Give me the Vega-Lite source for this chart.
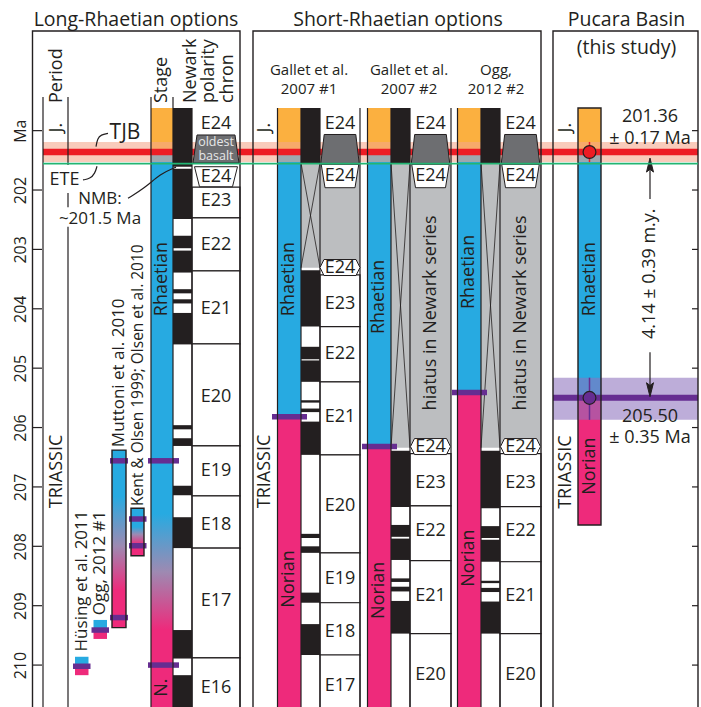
{
"$schema":"https://vega.github.io/schema/vega-lite/v6.json",
"width":669,"height":707,
"autosize":{"type":"none"},
"padding":{"left":32,"top":0,"right":0,"bottom":0},
"background":"#ffffff",
"config":{"view":{"stroke":null},"font":"Open Sans","text":{"font":"Open Sans","fill":"#231f20"}},
"datasets":{
"cols":[
{"col":"Lbox","x":32.5,"x2":240,"xc":136},
{"col":"Sbox","x":253,"x2":541,"xc":398},
{"col":"Pbox","x":553,"x2":698,"xc":626.5},
{"col":"band","x":43,"x2":698},
{"col":"Pband","x":553,"x2":698},
{"col":"Lper","x":43,"x2":68,"xc":57},
{"col":"Lstage","x":151,"x2":173,"xc":162},
{"col":"Lpol","x":173,"x2":192,"xc":182.5},
{"col":"Lchron","x":192,"x2":240,"xc":216},
{"col":"Hus","x":75,"x2":88.5,"xc":82},
{"col":"Ogg1","x":93.5,"x2":107,"xc":99.5},
{"col":"Mut","x":112,"x2":126,"xc":119},
{"col":"Kent","x":131,"x2":144,"xc":138},
{"col":"Sper","x":253,"x2":277.5,"xc":265},
{"col":"G1s","x":277.5,"x2":301,"xc":289},
{"col":"G1p","x":301,"x2":320,"xc":310.5},
{"col":"G1c","x":320,"x2":360,"xc":340},
{"col":"G2s","x":367.5,"x2":391,"xc":379},
{"col":"G2p","x":391,"x2":410,"xc":400.5},
{"col":"G2c","x":410,"x2":451,"xc":430.5},
{"col":"O2s","x":457.5,"x2":481,"xc":469},
{"col":"O2p","x":481,"x2":500,"xc":490.5},
{"col":"O2c","x":500,"x2":541,"xc":520.5},
{"col":"Pper","x":553,"x2":578,"xc":565.5},
{"col":"Ps","x":578,"x2":601,"xc":589.5},
{"col":"Lstage-bar","x":148,"x2":179},
{"col":"Hus-bar","x":73,"x2":90.5},
{"col":"Ogg1-bar","x":91.5,"x2":109},
{"col":"Mut-bar","x":110,"x2":128},
{"col":"Kent-bar","x":129,"x2":146.5},
{"col":"G1-bar","x":272,"x2":307},
{"col":"G2-bar","x":362,"x2":397},
{"col":"O2-bar","x":452,"x2":487},
{"col":"tickL","x":32.5,"x2":42},
{"col":"tickR","x":692,"x2":698},
{"col":"G1h","xc":309},
{"col":"G2h","xc":409},
{"col":"O2h","xc":496},
{"col":"Newark","xc":191},
{"col":"polarity","xc":209},
{"col":"chron","xc":228},
{"col":"TJB","xc":125},
{"col":"ETE","xc":64.5},
{"col":"NMB","xc":100},
{"col":"Page","xc":650},
{"col":"arrow","x":650,"xc":650}
],
"stage":[
{"col":"Lstage","kind":"J","top":200.62,"base":201.36},
{"col":"G1s","kind":"J","top":200.62,"base":201.36},
{"col":"G1s","kind":"Rh","top":201.36,"base":205.82},
{"col":"G1s","kind":"No","top":205.82,"base":211},
{"col":"G2s","kind":"J","top":200.62,"base":201.36},
{"col":"G2s","kind":"Rh","top":201.36,"base":206.32},
{"col":"G2s","kind":"No","top":206.32,"base":211},
{"col":"O2s","kind":"J","top":200.62,"base":201.36},
{"col":"O2s","kind":"Rh","top":201.36,"base":205.41},
{"col":"O2s","kind":"No","top":205.41,"base":211},
{"col":"Ps","kind":"J","top":200.62,"base":201.36},
{"col":"Ps","kind":"Rh","top":201.36,"base":205.5},
{"col":"Ps","kind":"No","top":205.5,"base":207.64},
{"col":"Hus","kind":"Rh","top":209.86,"base":210.02},
{"col":"Hus","kind":"No","top":210.02,"base":210.17},
{"col":"Ogg1","kind":"Rh","top":209.24,"base":209.41},
{"col":"Ogg1","kind":"No","top":209.41,"base":209.56}
],
"grad":[
{"col":"Lstage","top":201.36,"base":211},
{"col":"Mut","top":206.38,"base":209.37},
{"col":"Kent","top":207.36,"base":208.16}
],
"chron":[
{"col":"Lchron","top":201.95,"base":202.47},
{"col":"Lchron","top":202.47,"base":203.36},
{"col":"Lchron","top":203.36,"base":204.59},
{"col":"Lchron","top":204.59,"base":206.31},
{"col":"Lchron","top":206.31,"base":207.15},
{"col":"Lchron","top":207.15,"base":208.03},
{"col":"Lchron","top":208.03,"base":209.88},
{"col":"Lchron","top":209.88,"base":211},
{"col":"G1c","top":203.43,"base":204.3},
{"col":"G1c","top":204.3,"base":205.23},
{"col":"G1c","top":205.23,"base":206.46},
{"col":"G1c","top":206.46,"base":208.11},
{"col":"G1c","top":208.11,"base":208.95},
{"col":"G1c","top":208.95,"base":209.83},
{"col":"G1c","top":209.83,"base":211},
{"col":"G2c","top":206.44,"base":207.32},
{"col":"G2c","top":207.32,"base":208.24},
{"col":"G2c","top":208.24,"base":209.47},
{"col":"G2c","top":209.47,"base":211},
{"col":"O2c","top":206.44,"base":207.33},
{"col":"O2c","top":207.33,"base":208.26},
{"col":"O2c","top":208.26,"base":209.47},
{"col":"O2c","top":209.47,"base":211}
],
"hiatus":[
{"col":"G1p","top":201.545,"base":203.31},
{"col":"G1c","top":201.545,"base":203.3},
{"col":"G2p","top":201.545,"base":206.34},
{"col":"G2c","top":201.545,"base":206.32},
{"col":"O2p","top":201.545,"base":206.34},
{"col":"O2c","top":201.545,"base":206.32}
],
"bands":[
{"col":"band","kind":"TJB","top":201.19,"base":201.53},
{"col":"Pband","kind":"P","top":205.16,"base":205.87}
],
"hlines":[
{"col":"band","kind":"TJB","top":201.36},
{"col":"band","kind":"ETE","top":201.555},
{"col":"Pband","kind":"P","top":205.5}
],
"normal":[
{"col":"Lpol","top":200.62,"base":201.61},
{"col":"Lpol","top":201.64,"base":202.49},
{"col":"Lpol","top":202.77,"base":202.98},
{"col":"Lpol","top":203.02,"base":203.39},
{"col":"Lpol","top":203.67,"base":203.74},
{"col":"Lpol","top":203.84,"base":203.91},
{"col":"Lpol","top":204.07,"base":204.6},
{"col":"Lpol","top":205.96,"base":206.03},
{"col":"Lpol","top":206.18,"base":206.31},
{"col":"Lpol","top":206.98,"base":207.14},
{"col":"Lpol","top":207.51,"base":208.03},
{"col":"Lpol","top":209.41,"base":209.89},
{"col":"Lpol","top":210.17,"base":211},
{"col":"G1p","top":200.62,"base":201.545},
{"col":"G1p","top":203.35,"base":204.3},
{"col":"G1p","top":204.64,"base":204.85},
{"col":"G1p","top":204.87,"base":205.23},
{"col":"G1p","top":205.54,"base":205.58},
{"col":"G1p","top":205.68,"base":205.74},
{"col":"G1p","top":205.9,"base":206.46},
{"col":"G1p","top":207.79,"base":207.86},
{"col":"G1p","top":208.0,"base":208.11},
{"col":"G1p","top":208.78,"base":208.95},
{"col":"G1p","top":209.31,"base":209.83},
{"col":"G2p","top":200.62,"base":201.545},
{"col":"G2p","top":206.39,"base":207.34},
{"col":"G2p","top":207.64,"base":207.84},
{"col":"G2p","top":207.87,"base":208.23},
{"col":"G2p","top":208.54,"base":208.6},
{"col":"G2p","top":208.68,"base":208.76},
{"col":"G2p","top":208.92,"base":209.47},
{"col":"O2p","top":200.62,"base":201.545},
{"col":"O2p","top":206.39,"base":207.36},
{"col":"O2p","top":207.66,"base":207.86},
{"col":"O2p","top":207.89,"base":208.26},
{"col":"O2p","top":208.58,"base":208.62},
{"col":"O2p","top":208.7,"base":208.77},
{"col":"O2p","top":208.93,"base":209.47}
],
"bars":[
{"col":"Lstage-bar","top":206.56},
{"col":"Lstage-bar","top":210.0},
{"col":"Hus-bar","top":210.02},
{"col":"Ogg1-bar","top":209.41},
{"col":"Mut-bar","top":206.56},
{"col":"Mut-bar","top":209.2},
{"col":"Kent-bar","top":207.54},
{"col":"Kent-bar","top":207.99},
{"col":"G1-bar","top":205.82},
{"col":"G2-bar","top":206.32},
{"col":"O2-bar","top":205.41}
],
"boxes":[
{"col":"Lbox","top":199.322,"base":211},
{"col":"Sbox","top":199.322,"base":211},
{"col":"Pbox","top":199.322,"base":211},
{"col":"Ps","top":200.62,"base":207.64},
{"col":"Mut","top":206.38,"base":209.37},
{"col":"Kent","top":207.36,"base":208.16}
],
"vlines":[
{"col":"Lper","edge":"l","top":200.434,"base":211},
{"col":"Lper","edge":"r","top":200.434,"base":201.58},
{"col":"Lper","edge":"r","top":202.05,"base":202.29},
{"col":"Lper","edge":"r","top":202.62,"base":211},
{"col":"Lstage","edge":"l","top":200.434,"base":211},
{"col":"Lpol","edge":"l","top":200.434,"base":211},
{"col":"Lpol","edge":"r","top":200.62,"base":211},
{"col":"G1s","edge":"l","top":200.62,"base":211},
{"col":"G1p","edge":"l","top":200.62,"base":211},
{"col":"G1p","edge":"r","top":200.62,"base":211},
{"col":"G1c","edge":"r","top":200.62,"base":211},
{"col":"G2s","edge":"l","top":200.62,"base":211},
{"col":"G2p","edge":"l","top":200.62,"base":211},
{"col":"G2p","edge":"r","top":200.62,"base":211},
{"col":"G2c","edge":"r","top":200.62,"base":211},
{"col":"O2s","edge":"l","top":200.62,"base":211},
{"col":"O2p","edge":"l","top":200.62,"base":211},
{"col":"O2p","edge":"r","top":200.62,"base":211},
{"col":"arrow","edge":"l","top":201.6,"base":202.15},
{"col":"arrow","edge":"l","top":204.73,"base":205.36}
],
"shapes":[
{"col":"Lchron","kind":"basaltL","top":201.309},
{"col":"G1c","kind":"basaltS","top":201.309},
{"col":"G2c","kind":"basaltS","top":201.309},
{"col":"O2c","kind":"basaltS","top":201.309},
{"col":"Lchron","kind":"hexTopL","top":201.776},
{"col":"G1c","kind":"hexTopS","top":201.764},
{"col":"G2c","kind":"hexTopS","top":201.764},
{"col":"O2c","kind":"hexTopS","top":201.764},
{"col":"G1c","kind":"hexBot","top":203.305},
{"col":"G2c","kind":"hexBot","top":206.32},
{"col":"O2c","kind":"hexBot","top":206.32},
{"col":"arrow","kind":"up","top":201.58},
{"col":"arrow","kind":"down","top":205.363}
],
"ticks":[
{"col":"tickL","top":201},{"col":"tickL","top":202},{"col":"tickL","top":203},{"col":"tickL","top":204},{"col":"tickL","top":205},
{"col":"tickL","top":206},{"col":"tickL","top":207},{"col":"tickL","top":208},{"col":"tickL","top":209},{"col":"tickL","top":210},
{"col":"tickR","top":201},{"col":"tickR","top":202},{"col":"tickR","top":203},{"col":"tickR","top":204},{"col":"tickR","top":205},
{"col":"tickR","top":206},{"col":"tickR","top":207},{"col":"tickR","top":208},{"col":"tickR","top":209},{"col":"tickR","top":210}
],
"errbars":[
{"col":"Ps","kind":"TJB","top":201.19,"base":201.53},
{"col":"Ps","kind":"P","top":205.16,"base":205.87}
],
"circles":[
{"col":"Ps","kind":"TJB","top":201.36},
{"col":"Ps","kind":"P","top":205.5}
],
"leaders":[
{"id":"TJB","i":1,"x":108,"top":201.045},
{"id":"TJB","i":2,"x":101,"top":201.07},
{"id":"TJB","i":3,"x":97.5,"top":201.13},
{"id":"TJB","i":4,"x":96,"top":201.27},
{"id":"ETE","i":1,"x":83,"top":201.83},
{"id":"ETE","i":2,"x":90,"top":201.81},
{"id":"ETE","i":3,"x":95,"top":201.72},
{"id":"ETE","i":4,"x":97,"top":201.6},
{"id":"NMB","i":1,"x":128,"top":202.14},
{"id":"NMB","i":2,"x":146,"top":201.95},
{"id":"NMB","i":3,"x":160,"top":201.73},
{"id":"NMB","i":4,"x":176,"top":201.615}
],
"texts":[
{"g":"title","col":"Lbox","top":199.13,"text":"Long-Rhaetian options"},
{"g":"title","col":"Sbox","top":199.13,"text":"Short-Rhaetian options"},
{"g":"title","col":"Pbox","top":199.135,"text":"Pucara Basin"},
{"g":"title","col":"Pbox","top":199.6,"text":"(this study)"},
{"g":"sub","col":"G1h","top":199.975,"text":"Gallet et al."},
{"g":"sub","col":"G1h","top":200.3,"text":"2007 #1"},
{"g":"sub","col":"G2h","top":199.975,"text":"Gallet et al."},
{"g":"sub","col":"G2h","top":200.3,"text":"2007 #2"},
{"g":"sub","col":"O2h","top":199.975,"text":"Ogg,"},
{"g":"sub","col":"O2h","top":200.3,"text":"2012 #2"},
{"g":"hdr","col":"Lper","top":200.535,"text":"Period"},
{"g":"hdr","col":"Lstage","top":200.535,"text":"Stage"},
{"g":"hdr","col":"Newark","top":200.535,"text":"Newark"},
{"g":"hdr","col":"polarity","top":200.535,"text":"polarity"},
{"g":"hdr","col":"chron","top":200.535,"text":"chron"},
{"g":"chron","col":"Lchron","top":200.888,"text":"E24"},
{"g":"chron","col":"Lchron","top":201.776,"text":"E24"},
{"g":"chron","col":"Lchron","top":202.18,"text":"E23"},
{"g":"chron","col":"Lchron","top":202.93,"text":"E22"},
{"g":"chron","col":"Lchron","top":204.01,"text":"E21"},
{"g":"chron","col":"Lchron","top":205.48,"text":"E20"},
{"g":"chron","col":"Lchron","top":206.73,"text":"E19"},
{"g":"chron","col":"Lchron","top":207.64,"text":"E18"},
{"g":"chron","col":"Lchron","top":208.92,"text":"E17"},
{"g":"chron","col":"Lchron","top":210.38,"text":"E16"},
{"g":"chron","col":"G1c","top":200.888,"text":"E24"},
{"g":"chron","col":"G1c","top":201.764,"text":"E24"},
{"g":"chron","col":"G1c","top":203.305,"text":"E24"},
{"g":"chron","col":"G1c","top":203.92,"text":"E23"},
{"g":"chron","col":"G1c","top":204.76,"text":"E22"},
{"g":"chron","col":"G1c","top":205.83,"text":"E21"},
{"g":"chron","col":"G1c","top":207.32,"text":"E20"},
{"g":"chron","col":"G1c","top":208.55,"text":"E19"},
{"g":"chron","col":"G1c","top":209.44,"text":"E18"},
{"g":"chron","col":"G1c","top":210.35,"text":"E17"},
{"g":"chron","col":"G2c","top":200.888,"text":"E24"},
{"g":"chron","col":"G2c","top":201.764,"text":"E24"},
{"g":"chron","col":"G2c","top":206.32,"text":"E24"},
{"g":"chron","col":"G2c","top":206.93,"text":"E23"},
{"g":"chron","col":"G2c","top":207.74,"text":"E22"},
{"g":"chron","col":"G2c","top":208.83,"text":"E21"},
{"g":"chron","col":"G2c","top":210.17,"text":"E20"},
{"g":"chron","col":"O2c","top":200.888,"text":"E24"},
{"g":"chron","col":"O2c","top":201.764,"text":"E24"},
{"g":"chron","col":"O2c","top":206.32,"text":"E24"},
{"g":"chron","col":"O2c","top":206.93,"text":"E23"},
{"g":"chron","col":"O2c","top":207.75,"text":"E22"},
{"g":"chron","col":"O2c","top":208.84,"text":"E21"},
{"g":"chron","col":"O2c","top":210.17,"text":"E20"},
{"g":"stage","col":"Lstage","top":203.5,"text":"Rhaetian"},
{"g":"stage","col":"Lstage","top":210.38,"text":"N."},
{"g":"stage","col":"G1s","top":203.5,"text":"Rhaetian"},
{"g":"stage","col":"G1s","top":208.55,"text":"Norian"},
{"g":"stage","col":"G2s","top":203.8,"text":"Rhaetian"},
{"g":"stage","col":"G2s","top":208.74,"text":"Norian"},
{"g":"stage","col":"O2s","top":203.38,"text":"Rhaetian"},
{"g":"stage","col":"O2s","top":208.2,"text":"Norian"},
{"g":"stage","col":"Ps","top":203.5,"text":"Rhaetian"},
{"g":"stage","col":"Ps","top":206.65,"text":"Norian"},
{"g":"stage","col":"G2c","top":204.07,"text":"hiatus in Newark series"},
{"g":"stage","col":"O2c","top":204.07,"text":"hiatus in Newark series"},
{"g":"stage","col":"Lper","top":200.95,"text":"J."},
{"g":"stage","col":"Sper","top":200.95,"text":"J."},
{"g":"stage","col":"Pper","top":200.95,"text":"J."},
{"g":"stage","col":"Lper","top":206.74,"text":"TRIASSIC"},
{"g":"stage","col":"Sper","top":206.74,"text":"TRIASSIC"},
{"g":"stage","col":"Pper","top":206.75,"text":"TRIASSIC"},
{"g":"stage","col":"arrow","top":203.41,"text":"4.14 ± 0.39 m.y."},
{"g":"study","col":"Hus","top":209.77,"text":"Hüsing et al. 2011"},
{"g":"study","col":"Ogg1","top":209.16,"text":"Ogg, 2012 #1"},
{"g":"study","col":"Mut","top":206.33,"text":"Muttoni et al. 2010"},
{"g":"study2","col":"Kent","top":207.32,"text":"Kent & Olsen 1999; Olsen et al. 2010"},
{"g":"ann","col":"ETE","top":201.83,"text":"ETE"},
{"g":"ann2","col":"NMB","top":202.15,"text":"NMB:"},
{"g":"ann2","col":"NMB","top":202.49,"text":"~201.5 Ma"},
{"g":"ann","col":"Page","top":200.765,"text":"201.36"},
{"g":"ann","col":"Page","top":201.144,"text":"± 0.17 Ma"},
{"g":"ann","col":"Page","top":205.818,"text":"205.50"},
{"g":"ann","col":"Page","top":206.18,"text":"± 0.35 Ma"},
{"g":"big","col":"TJB","top":201.045,"text":"TJB"},
{"g":"basalt","col":"Lchron","top":201.19,"text":"oldest"},
{"g":"basalt","col":"Lchron","top":201.435,"text":"basalt"}
]
},
"encoding":{
"x":{"field":"x","type":"quantitative","scale":{"domain":[32,701],"nice":false,"zero":false},"axis":null},
"y":{"field":"top","type":"quantitative","scale":{"domain":[198.8,210.706],"reverse":true,"nice":false,"zero":false},
"axis":{"values":[201,202,203,204,205,206,207,208,209,210],"labelExpr":"datum.value == 201 ? 'Ma' : datum.label","labelAngle":270,"labelAlign":"center","labelBaseline":"bottom","labelFontSize":16,"labelFont":"Open Sans","labelColor":"#231f20","labelPadding":4,"ticks":false,"domain":false,"grid":false,"title":null,"labelOverlap":false}}
},
"resolve":{"scale":{"color":"independent","shape":"independent"}},
"layer":[
{"data":{"name":"stage"},"transform":[{"lookup":"col","from":{"data":{"name":"cols"},"key":"col","fields":["x","x2"]}}],
 "mark":{"type":"rect"},
 "encoding":{"x2":{"field":"x2"},"y2":{"field":"base"},"color":{"field":"kind","type":"nominal","scale":{"domain":["J","Rh","No"],"range":["#fbb040","#27aae1","#ee2a7b"]},"legend":null}}},
{"data":{"name":"grad"},"transform":[{"filter":"datum.col == 'Lstage'"},{"lookup":"col","from":{"data":{"name":"cols"},"key":"col","fields":["x","x2"]}}],
 "mark":{"type":"rect","fill":{"gradient":"linear","x1":0,"y1":0,"x2":0,"y2":1,"stops":[{"offset":0,"color":"#27aae1"},{"offset":0.632,"color":"#27aae1"},{"offset":0.733,"color":"#9d8ab2"},{"offset":0.835,"color":"#ee2a7b"},{"offset":1,"color":"#ee2a7b"}]}},
 "encoding":{"x2":{"field":"x2"},"y2":{"field":"base"}}},
{"data":{"name":"grad"},"transform":[{"filter":"datum.col == 'Mut'"},{"lookup":"col","from":{"data":{"name":"cols"},"key":"col","fields":["x","x2"]}}],
 "mark":{"type":"rect","fill":{"gradient":"linear","x1":0,"y1":0,"x2":0,"y2":1,"stops":[{"offset":0,"color":"#27aae1"},{"offset":0.26,"color":"#27aae1"},{"offset":0.54,"color":"#9d8ab2"},{"offset":0.79,"color":"#ee2a7b"},{"offset":1,"color":"#ee2a7b"}]}},
 "encoding":{"x2":{"field":"x2"},"y2":{"field":"base"}}},
{"data":{"name":"grad"},"transform":[{"filter":"datum.col == 'Kent'"},{"lookup":"col","from":{"data":{"name":"cols"},"key":"col","fields":["x","x2"]}}],
 "mark":{"type":"rect","fill":{"gradient":"linear","x1":0,"y1":0,"x2":0,"y2":1,"stops":[{"offset":0,"color":"#27aae1"},{"offset":0.39,"color":"#27aae1"},{"offset":0.55,"color":"#9d8ab2"},{"offset":0.76,"color":"#ee2a7b"},{"offset":1,"color":"#ee2a7b"}]}},
 "encoding":{"x2":{"field":"x2"},"y2":{"field":"base"}}},
{"data":{"name":"chron"},"transform":[{"lookup":"col","from":{"data":{"name":"cols"},"key":"col","fields":["x","x2"]}}],
 "mark":{"type":"rect","fill":"#ffffff","stroke":"#231f20","strokeWidth":1.2},
 "encoding":{"x2":{"field":"x2"},"y2":{"field":"base"}}},
{"data":{"name":"hiatus"},"transform":[{"lookup":"col","from":{"data":{"name":"cols"},"key":"col","fields":["x","x2"]}}],
 "mark":{"type":"rect","fill":"#bcbec0"},
 "encoding":{"x2":{"field":"x2"},"y2":{"field":"base"}}},
{"data":{"name":"bands"},"transform":[{"filter":"datum.kind == 'TJB'"},{"lookup":"col","from":{"data":{"name":"cols"},"key":"col","fields":["x","x2"]}}],
 "mark":{"type":"rect","fill":"#f4a58a","opacity":0.58},
 "encoding":{"x2":{"field":"x2"},"y2":{"field":"base"}}},
{"data":{"name":"bands"},"transform":[{"filter":"datum.kind == 'P'"},{"lookup":"col","from":{"data":{"name":"cols"},"key":"col","fields":["x","x2"]}}],
 "mark":{"type":"rect","fill":"#8e72bd","opacity":0.58},
 "encoding":{"x2":{"field":"x2"},"y2":{"field":"base"}}},
{"data":{"name":"hlines"},"transform":[{"filter":"datum.kind == 'TJB'"},{"lookup":"col","from":{"data":{"name":"cols"},"key":"col","fields":["x","x2"]}}],
 "mark":{"type":"rule","stroke":"#ed1c24","strokeWidth":6.5},
 "encoding":{"x2":{"field":"x2"}}},
{"data":{"name":"hlines"},"transform":[{"filter":"datum.kind == 'P'"},{"lookup":"col","from":{"data":{"name":"cols"},"key":"col","fields":["x","x2"]}}],
 "mark":{"type":"rule","stroke":"#662d91","strokeWidth":6},
 "encoding":{"x2":{"field":"x2"}}},
{"data":{"name":"normal"},"transform":[{"lookup":"col","from":{"data":{"name":"cols"},"key":"col","fields":["x","x2"]}}],
 "mark":{"type":"rect","fill":"#231f20"},
 "encoding":{"x2":{"field":"x2"},"y2":{"field":"base"}}},
{"data":{"name":"hiatus"},"transform":[{"filter":"indexof(['G1p','G2p','O2p'], datum.col) >= 0"},{"lookup":"col","from":{"data":{"name":"cols"},"key":"col","fields":["x","x2"]}}],
 "mark":{"type":"rule","stroke":"#231f20","strokeWidth":0.8},
 "encoding":{"x2":{"field":"x2"},"y2":{"field":"base"}}},
{"data":{"name":"hiatus"},"transform":[{"filter":"indexof(['G1p','G2p','O2p'], datum.col) >= 0"},{"lookup":"col","from":{"data":{"name":"cols"},"key":"col","fields":["x","x2"]},"as":["x2","x"]}],
 "mark":{"type":"rule","stroke":"#231f20","strokeWidth":0.8},
 "encoding":{"x2":{"field":"x2"},"y2":{"field":"base"}}},
{"data":{"name":"bars"},"transform":[{"lookup":"col","from":{"data":{"name":"cols"},"key":"col","fields":["x","x2"]}}],
 "mark":{"type":"rule","stroke":"#662d91","strokeWidth":5.5},
 "encoding":{"x2":{"field":"x2"}}},
{"data":{"name":"boxes"},"transform":[{"lookup":"col","from":{"data":{"name":"cols"},"key":"col","fields":["x","x2"]}}],
 "mark":{"type":"rect","fillOpacity":0,"stroke":"#231f20","strokeWidth":1.4},
 "encoding":{"x2":{"field":"x2"},"y2":{"field":"base"}}},
{"data":{"name":"vlines"},"transform":[{"filter":"datum.edge == 'l'"},{"lookup":"col","from":{"data":{"name":"cols"},"key":"col","fields":["x"]}}],
 "mark":{"type":"rule","stroke":"#231f20","strokeWidth":1.2},
 "encoding":{"y2":{"field":"base"}}},
{"data":{"name":"vlines"},"transform":[{"filter":"datum.edge == 'r'"},{"lookup":"col","from":{"data":{"name":"cols"},"key":"col","fields":["x2"]},"as":["x"]}],
 "mark":{"type":"rule","stroke":"#231f20","strokeWidth":1.2},
 "encoding":{"y2":{"field":"base"}}},
{"data":{"name":"shapes"},"transform":[{"lookup":"col","from":{"data":{"name":"cols"},"key":"col","fields":["xc"]},"as":["x"]}],
 "mark":{"type":"point","filled":true,"opacity":1,"size":2116,"stroke":"#231f20","strokeWidth":1},
 "encoding":{
  "shape":{"field":"kind","type":"nominal","scale":{"domain":["basaltL","basaltS","hexTopL","hexTopS","hexBot","up","down"],"range":["M-0.826,-0.609L0.826,-0.609L1,0.609L-1,0.609Z","M-0.687,-0.63L0.687,-0.63L0.835,0.63L-0.835,0.63Z","M-0.935,-0.435L0.935,-0.435L0.717,0.435L-0.717,0.435Z","M-0.817,-0.509L0.817,-0.509L0.652,0.509L-0.652,0.509Z","M-0.87,0L-0.696,-0.348L0.696,-0.348L0.87,0L0.696,0.348L-0.696,0.348Z","M0,-0.304L0.152,0.304L0,0.183L-0.152,0.304Z","M0,0.304L0.152,-0.304L0,-0.183L-0.152,-0.304Z"]},"legend":null},
  "color":{"field":"kind","type":"nominal","scale":{"domain":["basaltL","basaltS","hexTopL","hexTopS","hexBot","up","down"],"range":["#6d6e71","#6d6e71","#ffffff","#ffffff","#ffffff","#231f20","#231f20"]},"legend":null}}},
{"data":{"name":"hlines"},"transform":[{"filter":"datum.kind == 'ETE'"},{"lookup":"col","from":{"data":{"name":"cols"},"key":"col","fields":["x","x2"]}}],
 "mark":{"type":"rule","stroke":"#22b573","strokeWidth":1.6},
 "encoding":{"x2":{"field":"x2"}}},
{"data":{"name":"ticks"},"transform":[{"lookup":"col","from":{"data":{"name":"cols"},"key":"col","fields":["x","x2"]}}],
 "mark":{"type":"rule","stroke":"#231f20","strokeWidth":1.2},
 "encoding":{"x2":{"field":"x2"}}},
{"data":{"name":"errbars"},"transform":[{"lookup":"col","from":{"data":{"name":"cols"},"key":"col","fields":["xc"]},"as":["x"]}],
 "mark":{"type":"rule","strokeWidth":1.5},
 "encoding":{"y2":{"field":"base"},"color":{"field":"kind","type":"nominal","scale":{"domain":["TJB","P"],"range":["#ed1c24","#662d91"]},"legend":null}}},
{"data":{"name":"circles"},"transform":[{"lookup":"col","from":{"data":{"name":"cols"},"key":"col","fields":["xc"]},"as":["x"]}],
 "mark":{"type":"point","shape":"circle","filled":true,"opacity":1,"size":165,"stroke":"#231f20","strokeWidth":1.2},
 "encoding":{"color":{"field":"kind","type":"nominal","scale":{"domain":["TJB","P"],"range":["#ed1c24","#662d91"]},"legend":null}}},
{"data":{"name":"leaders"},
 "mark":{"type":"line","interpolate":"basis","stroke":"#231f20","strokeWidth":1.2},
 "encoding":{"detail":{"field":"id"},"order":{"field":"i","type":"quantitative"}}},
{"data":{"name":"texts"},"transform":[{"filter":"datum.g == 'title'"},{"lookup":"col","from":{"data":{"name":"cols"},"key":"col","fields":["xc"]},"as":["x"]}],
 "mark":{"type":"text","fontSize":19.5,"align":"center","baseline":"middle"},
 "encoding":{"text":{"field":"text"}}},
{"data":{"name":"texts"},"transform":[{"filter":"datum.g == 'sub'"},{"lookup":"col","from":{"data":{"name":"cols"},"key":"col","fields":["xc"]},"as":["x"]}],
 "mark":{"type":"text","fontSize":15,"align":"center","baseline":"middle"},
 "encoding":{"text":{"field":"text"}}},
{"data":{"name":"texts"},"transform":[{"filter":"datum.g == 'hdr'"},{"lookup":"col","from":{"data":{"name":"cols"},"key":"col","fields":["xc"]},"as":["x"]}],
 "mark":{"type":"text","fontSize":18,"angle":270,"align":"left","baseline":"middle"},
 "encoding":{"text":{"field":"text"}}},
{"data":{"name":"texts"},"transform":[{"filter":"datum.g == 'chron'"},{"lookup":"col","from":{"data":{"name":"cols"},"key":"col","fields":["xc"]},"as":["x"]}],
 "mark":{"type":"text","fontSize":18,"align":"center","baseline":"middle"},
 "encoding":{"text":{"field":"text"}}},
{"data":{"name":"texts"},"transform":[{"filter":"datum.g == 'stage'"},{"lookup":"col","from":{"data":{"name":"cols"},"key":"col","fields":["xc"]},"as":["x"]}],
 "mark":{"type":"text","fontSize":18,"angle":270,"align":"center","baseline":"middle"},
 "encoding":{"text":{"field":"text"}}},
{"data":{"name":"texts"},"transform":[{"filter":"datum.g == 'study'"},{"lookup":"col","from":{"data":{"name":"cols"},"key":"col","fields":["xc"]},"as":["x"]}],
 "mark":{"type":"text","fontSize":17,"angle":270,"align":"left","baseline":"middle"},
 "encoding":{"text":{"field":"text"}}},
{"data":{"name":"texts"},"transform":[{"filter":"datum.g == 'study2'"},{"lookup":"col","from":{"data":{"name":"cols"},"key":"col","fields":["xc"]},"as":["x"]}],
 "mark":{"type":"text","fontSize":15.5,"angle":270,"align":"left","baseline":"middle"},
 "encoding":{"text":{"field":"text"}}},
{"data":{"name":"texts"},"transform":[{"filter":"datum.g == 'ann'"},{"lookup":"col","from":{"data":{"name":"cols"},"key":"col","fields":["xc"]},"as":["x"]}],
 "mark":{"type":"text","fontSize":18,"align":"center","baseline":"middle"},
 "encoding":{"text":{"field":"text"}}},
{"data":{"name":"texts"},"transform":[{"filter":"datum.g == 'ann2'"},{"lookup":"col","from":{"data":{"name":"cols"},"key":"col","fields":["xc"]},"as":["x"]}],
 "mark":{"type":"text","fontSize":17,"align":"center","baseline":"middle"},
 "encoding":{"text":{"field":"text"}}},
{"data":{"name":"texts"},"transform":[{"filter":"datum.g == 'big'"},{"lookup":"col","from":{"data":{"name":"cols"},"key":"col","fields":["xc"]},"as":["x"]}],
 "mark":{"type":"text","fontSize":21,"align":"center","baseline":"middle"},
 "encoding":{"text":{"field":"text"}}},
{"data":{"name":"texts"},"transform":[{"filter":"datum.g == 'basalt'"},{"lookup":"col","from":{"data":{"name":"cols"},"key":"col","fields":["xc"]},"as":["x"]}],
 "mark":{"type":"text","fontSize":12.5,"align":"center","baseline":"middle","fill":"#e6e7e8"},
 "encoding":{"text":{"field":"text"}}}
]
}
